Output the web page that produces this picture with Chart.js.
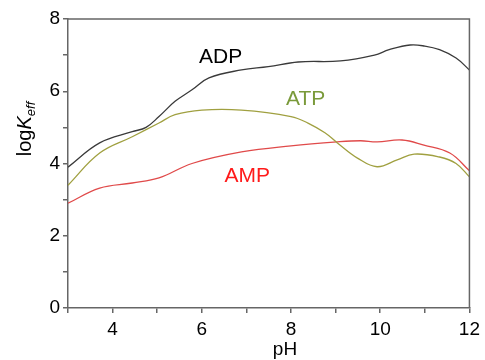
<!DOCTYPE html>
<html><head><meta charset="utf-8">
<script src="https://cdn.jsdelivr.net/npm/chart.js@4/dist/chart.umd.min.js"></script>
<style>html,body{margin:0;padding:0;background:#fff}#wrap{width:485px;height:360px;position:relative}</style>
</head><body><div id="wrap"><canvas id="c"></canvas></div>
<script>
const phADP = [3, 3.71, 4.44, 4.75, 5.04, 5.4, 5.78, 6.16, 6.89, 7.49, 8.16, 9.11, 9.87, 10.2, 10.67, 11.0, 11.33, 11.7, 12];
const ADP   = [3.9, 4.57, 4.88, 5.0, 5.3, 5.72, 6.04, 6.37, 6.59, 6.68, 6.81, 6.84, 7.0, 7.15, 7.28, 7.25, 7.15, 6.92, 6.59];
const phATP = [3, 3.71, 4.44, 5.04, 5.4, 6.0, 6.89, 8.0, 8.38, 8.76, 9.04, 9.49, 9.93, 10.38, 10.76, 11.33, 11.7, 12];
const ATP   = [3.4, 4.29, 4.74, 5.12, 5.35, 5.48, 5.48, 5.3, 5.12, 4.85, 4.57, 4.15, 3.91, 4.1, 4.26, 4.18, 4.0, 3.63];
const phAMP = [3, 3.71, 4.44, 5.04, 5.78, 6.89, 8.0, 9.04, 9.56, 9.93, 10.49, 10.98, 11.56, 12];
const AMP   = [2.9, 3.32, 3.46, 3.6, 4.0, 4.32, 4.49, 4.6, 4.63, 4.6, 4.65, 4.51, 4.29, 3.8];
const xTicks = [4, 6, 8, 10, 12];
const yTicks = [0, 2, 4, 6, 8];
const seriesLabels = [
  {text: 'ADP', x: 6.42, y: 7.0, color: '#000000'},
  {text: 'ATP', x: 8.33, y: 5.84, color: '#7a9a3a'},
  {text: 'AMP', x: 7.02, y: 3.7, color: '#ff1a1a'}
];
const toPts = (xs, ys) => xs.map((x, i) => ({x, y: ys[i]}));

const textPlugin = {
  id: 'texts',
  afterDraw(chart) {
    const ctx = chart.ctx, ca = chart.chartArea, xs = chart.scales.x, ys = chart.scales.y;
    ctx.save();
    ctx.strokeStyle = '#666'; ctx.lineWidth = 1.5;
    ctx.beginPath();
    ctx.moveTo(ca.left, ca.top); ctx.lineTo(ca.right, ca.top); ctx.lineTo(ca.right, ca.bottom);
    ctx.stroke();
    ctx.font = '21px "Liberation Sans", Arial, sans-serif';
    ctx.textAlign = 'center'; ctx.textBaseline = 'alphabetic';
    seriesLabels.forEach(l => { ctx.fillStyle = l.color; ctx.fillText(l.text, xs.getPixelForValue(l.x), ys.getPixelForValue(l.y) + 8); });
    ctx.fillStyle = '#000';
    ctx.font = '19px "Liberation Sans", Arial, sans-serif';
    ctx.textBaseline = 'middle';
    ctx.fillText('pH', 285, 350);
    ctx.translate(24, 129);
    ctx.rotate(-Math.PI / 2);
    ctx.textAlign = 'left'; ctx.textBaseline = 'alphabetic';
    const f1 = '20px "Liberation Sans", Arial, sans-serif';
    const f2 = 'italic 20px "Liberation Sans", Arial, sans-serif';
    const f3 = 'italic 13px "Liberation Sans", Arial, sans-serif';
    ctx.font = f1; const w1 = ctx.measureText('log').width;
    ctx.font = f2; const w2 = ctx.measureText('K').width;
    ctx.font = f3; const w3 = ctx.measureText('eff').width;
    let x0 = -(w1 + w2 + w3) / 2;
    ctx.font = f1; ctx.fillText('log', x0, 7); x0 += w1;
    ctx.font = f2; ctx.fillText('K', x0, 7); x0 += w2;
    ctx.font = f3; ctx.fillText('eff', x0, 11);
    ctx.restore();
  }
};

new Chart(document.getElementById('c'), {
  type: 'line',
  data: {
    datasets: [
      {data: toPts(phADP, ADP), borderColor: '#3a3a3a', borderWidth: 1.3, pointRadius: 0, tension: 0.4, fill: false},
      {data: toPts(phATP, ATP), borderColor: '#a0a040', borderWidth: 1.3, pointRadius: 0, tension: 0.4, fill: false},
      {data: toPts(phAMP, AMP), borderColor: '#e04a4a', borderWidth: 1.3, pointRadius: 0, tension: 0.4, fill: false}
    ]
  },
  options: {
    responsive: true, maintainAspectRatio: false, animation: false,
    layout: {padding: {left: 0, top: 19, right: 13, bottom: 0}},
    plugins: {legend: {display: false}, tooltip: {enabled: false}},
    scales: {
      x: {
        type: 'linear', min: 3, max: 12,
        afterFit(s) { s.height = 52; },
        afterBuildTicks(s) { s.ticks = [3,4,5,6,7,8,9,10,11,12].map(v => ({value: v})); },
        ticks: {color: '#000', font: {size: 19, family: '"Liberation Sans", Arial, sans-serif'}, padding: 5, maxRotation: 0,
          callback: v => xTicks.includes(v) ? String(v) : ''},
        grid: {drawOnChartArea: false, tickLength: 5, color: '#666', lineWidth: 1.5},
        border: {color: '#666', width: 1.5}
      },
      y: {
        min: 0, max: 8,
        afterFit(s) { s.width = 68; },
        afterBuildTicks(s) { s.ticks = [0,1,2,3,4,5,6,7,8].map(v => ({value: v})); },
        ticks: {color: '#000', font: {size: 19, family: '"Liberation Sans", Arial, sans-serif'}, padding: 3,
          callback: v => yTicks.includes(v) ? String(v) : ''},
        grid: {drawOnChartArea: false, tickLength: 5, color: '#666', lineWidth: 1.5},
        border: {color: '#666', width: 1.5}
      }
    }
  },
  plugins: [textPlugin]
});
</script></body></html>
